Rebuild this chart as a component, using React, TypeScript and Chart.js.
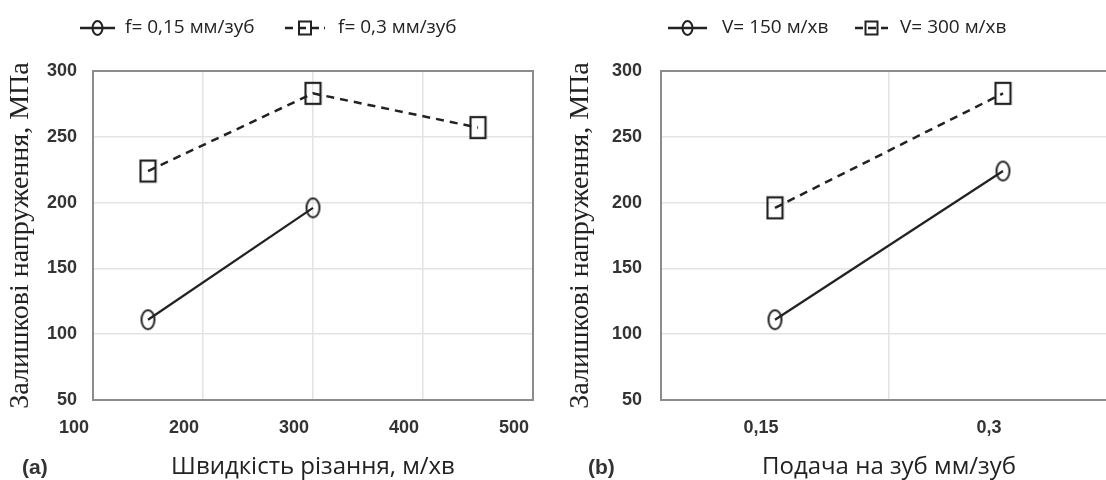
import React, { useEffect, useRef } from 'react';
import { Chart, registerables } from 'chart.js';

Chart.register(...registerables);

// ---- data ----
const speedTicks = [100, 200, 300, 400, 500];
const speedsF015 = [150, 300];
const stressF015 = [111, 196];
const speedsF03 = [150, 300, 450];
const stressF03 = [224, 283, 257];

const feedLabels = ['0,15', '0,3'];
const stressV150 = [111, 224];
const stressV300 = [196, 283];

const stressTicks = [50, 100, 150, 200, 250, 300];

const legendLeft = ['f= 0,15 мм/зуб', 'f= 0,3 мм/зуб'];
const legendRight = ['V= 150 м/хв', 'V= 300 м/хв'];

const yTitle = 'Залишкові напруження, МПа';
const xTitleLeft = 'Швидкість різання, м/хв';
const xTitleRight = 'Подача на зуб мм/зуб';

// ---- styles ----
const INK = '#222222';
const GRID = '#e3e3e3';
const FRAME = '#8c8c8c';
const TICK_FONT = "'Liberation Sans', Arial, sans-serif";
const SANS = "'Open Sans', 'Noto Sans', sans-serif";
const SERIF = "'Liberation Serif', 'Times New Roman', serif";

function makeEllipse(): HTMLCanvasElement {
  const c = document.createElement('canvas');
  c.width = 19; c.height = 25;
  const ctx = c.getContext('2d')!;
  ctx.strokeStyle = INK; ctx.lineWidth = 2;
  ctx.beginPath();
  ctx.ellipse(9.5, 12.5, 6.5, 9.5, 0, 0, Math.PI * 2);
  ctx.stroke();
  return c;
}
function makeSquare(): HTMLCanvasElement {
  const c = document.createElement('canvas');
  c.width = 19; c.height = 25;
  const ctx = c.getContext('2d')!;
  ctx.strokeStyle = INK; ctx.lineWidth = 2.2;
  ctx.strokeRect(2, 2, 15, 21);
  return c;
}

type LegendSpec = { sample: [number, number]; textX: number }[];

function decorPlugin(legendTexts: string[], spec: LegendSpec, panel: string, panelX: number) {
  return {
    id: 'decor',
    beforeDatasetsDraw(chart: any) {
      const { ctx, chartArea: a } = chart;
      ctx.save();
      ctx.strokeStyle = FRAME;
      ctx.lineWidth = 2;
      ctx.strokeRect(a.left, a.top, a.right - a.left, a.bottom - a.top);
      ctx.restore();
    },
    afterDraw(chart: any) {
      const { ctx } = chart;
      ctx.save();
      const y = 28;
      chart.data.datasets.forEach((ds: any, i: number) => {
        const s = spec[i];
        const [x0, x1] = s.sample;
        const cx = (x0 + x1) / 2;
        const dashed = ds.borderDash && ds.borderDash.length;
        ctx.strokeStyle = INK;
        ctx.lineWidth = 2.5;
        ctx.setLineDash(dashed ? [8, 5] : []);
        ctx.beginPath(); ctx.moveTo(x0, y); ctx.lineTo(x1, y); ctx.stroke();
        ctx.setLineDash([]);
        ctx.lineWidth = 2;
        ctx.beginPath();
        if (dashed) {
          ctx.rect(cx - 6, y - 6.5, 12, 13);
        } else {
          ctx.ellipse(cx, y, 5, 7, 0, 0, Math.PI * 2);
        }
        ctx.stroke();
        ctx.fillStyle = INK;
        ctx.font = `19px ${SANS}`;
        ctx.textBaseline = 'middle';
        ctx.textAlign = 'left';
        ctx.fillText(legendTexts[i], s.textX, y);
      });
      ctx.font = `bold 21px ${TICK_FONT}`;
      ctx.fillStyle = '#333';
      ctx.textBaseline = 'alphabetic';
      ctx.textAlign = 'left';
      ctx.fillText(panel, panelX, 474);
      ctx.restore();
    },
  };
}

function yScale(width: number, pad: number) {
  return {
    min: stressTicks[0],
    max: stressTicks[stressTicks.length - 1],
    afterFit: (s: any) => { s.width = width; s.paddingTop = 0; s.paddingBottom = 0; },
    afterBuildTicks: (s: any) => { s.ticks = stressTicks.map((v) => ({ value: v })); },
    grid: { color: GRID, lineWidth: 1.5, drawTicks: false },
    border: { display: false },
    ticks: { padding: pad, color: '#333', font: { family: TICK_FONT, size: 18, weight: 'bold' } },
    title: { display: true, text: yTitle, color: INK, font: { family: SERIF, size: 28 }, padding: { top: 4, bottom: 0 } },
  };
}

function xTitle(text: string) {
  return { display: true, text, color: INK, font: { family: SANS, size: 24 }, padding: { top: 0, bottom: -2 } };
}

function xFit(s: any) {
  s.height = 80;
  s.paddingLeft = 0;
  s.paddingRight = 0;
}

function lineDs(label: string, data: any[], dashed: boolean, marker: HTMLCanvasElement) {
  return {
    label,
    data,
    borderColor: INK,
    borderWidth: dashed ? 2.5 : 2.2,
    borderDash: dashed ? [8, 6] : [],
    pointStyle: marker,
    pointRadius: 8,
    pointHoverRadius: 8,
    fill: false,
    tension: 0,
  };
}

export default function App() {
  const leftRef = useRef<HTMLCanvasElement>(null);
  const rightRef = useRef<HTMLCanvasElement>(null);

  useEffect(() => {
    const circ = makeEllipse();
    const sq = makeSquare();

    const left = new Chart(leftRef.current!, {
      type: 'line',
      data: {
        datasets: [
          lineDs(legendLeft[0], speedsF015.map((x, i) => ({ x, y: stressF015[i] })), false, circ),
          lineDs(legendLeft[1], speedsF03.map((x, i) => ({ x, y: stressF03[i] })), true, sq),
        ] as any,
      },
      options: {
        responsive: false,
        animation: false,
        layout: { padding: { top: 71, left: 0, right: 27, bottom: 0 } },
        plugins: { legend: { display: false }, tooltip: { enabled: false } },
        scales: {
          x: {
            type: 'linear',
            min: speedTicks[0],
            max: speedTicks[speedTicks.length - 1],
            afterFit: xFit,
            afterBuildTicks: (s: any) => { s.ticks = speedTicks.map((v) => ({ value: v })); },
            grid: { color: GRID, lineWidth: 1.5, drawTicks: false },
            border: { display: false },
            ticks: { padding: 17, labelOffset: -19, color: '#333', font: { family: TICK_FONT, size: 18, weight: 'bold' } },
            title: xTitle(xTitleLeft),
          },
          y: yScale(93, 16),
        } as any,
      },
      plugins: [decorPlugin(legendLeft, [
        { sample: [80, 115], textX: 125 },
        { sample: [285, 325], textX: 338 },
      ], '(a)', 22)],
    });

    const right = new Chart(rightRef.current!, {
      type: 'line',
      data: {
        labels: feedLabels,
        datasets: [
          lineDs(legendRight[0], stressV150, false, circ),
          lineDs(legendRight[1], stressV300, true, sq),
        ] as any,
      },
      options: {
        responsive: false,
        animation: false,
        layout: { padding: { top: 71, left: 0, right: 43, bottom: 0 } },
        plugins: { legend: { display: false }, tooltip: { enabled: false } },
        scales: {
          x: {
            type: 'category',
            offset: true,
            afterFit: xFit,
            grid: { color: GRID, lineWidth: 1.5, drawTicks: false, offset: true },
            border: { display: false },
            ticks: { padding: 17, labelOffset: -14, color: '#333', font: { family: TICK_FONT, size: 18, weight: 'bold' } },
            title: xTitle(xTitleRight),
          },
          y: yScale(101, 19),
        } as any,
      },
      plugins: [decorPlugin(legendRight, [
        { sample: [108, 147], textX: 162 },
        { sample: [295, 328], textX: 340 },
      ], '(b)', 28)],
    });

    return () => { left.destroy(); right.destroy(); };
  }, []);

  return (
    <div style={{ position: 'fixed', left: 0, top: 0, width: 1106, height: 480, overflow: 'hidden', background: '#fff' }}>
      <canvas ref={leftRef} width={560} height={480} style={{ position: 'absolute', left: 0, top: 0, display: 'block' }} />
      <canvas ref={rightRef} width={600} height={480} style={{ position: 'absolute', left: 560, top: 0, display: 'block' }} />
    </div>
  );
}
